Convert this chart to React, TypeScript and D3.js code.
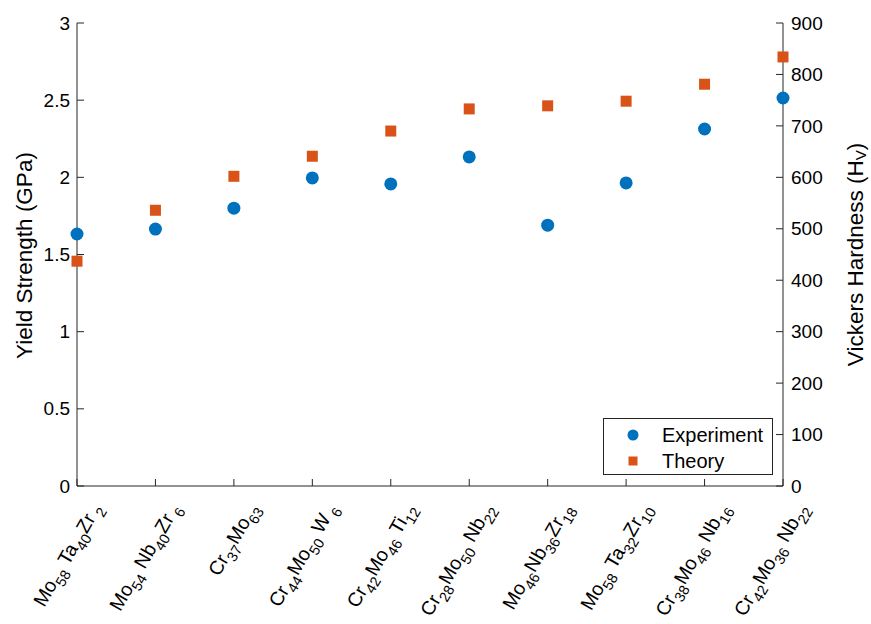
import React from "react";
import * as d3 from "d3";

const categories = [
  "Mo_{58} Ta_{40}Zr_{ 2}",
  "Mo_{54} Nb_{40}Zr_{ 6}",
  "Cr_{37}Mo_{63}",
  "Cr_{44}Mo_{50} W_{ 6}",
  "Cr_{42}Mo_{46} Ti_{12}",
  "Cr_{28}Mo_{50} Nb_{22}",
  "Mo_{46}Nb_{36}Zr_{18}",
  "Mo_{58} Ta_{32}Zr_{10}",
  "Cr_{38}Mo_{46} Nb_{16}",
  "Cr_{42}Mo_{36} Nb_{22}",
];
const experiment = [1.633, 1.665, 1.80, 1.996, 1.957, 2.132, 1.69, 1.964, 2.313, 2.514];
const theory = [437, 536, 602, 641, 690, 733, 739, 748, 781, 834];
const leftTicks = [0, 0.5, 1, 1.5, 2, 2.5, 3];
const rightTicks = [0, 100, 200, 300, 400, 500, 600, 700, 800, 900];

const W = 871, H = 624;
const L = 77, R = 783, T = 23, B = 486;
const BLUE = "#0072BD", ORANGE = "#D95319", AX = "#262626";
const FONT = "'Liberation Sans', Arial, Helvetica, sans-serif";

function parseTex(s: string) {
  const parts: { t: string; sub: boolean }[] = [];
  const re = /_\{([^}]*)\}|([^_]+)/g;
  let m;
  while ((m = re.exec(s)) !== null) {
    if (m[1] !== undefined) parts.push({ t: m[1], sub: true });
    else parts.push({ t: m[2], sub: false });
  }
  return parts;
}

export default function App() {
  const x = d3.scalePoint<number>().domain(d3.range(categories.length)).range([L, R]);
  const yL = d3.scaleLinear().domain([0, 3]).range([B, T]);
  const yR = d3.scaleLinear().domain([0, 900]).range([B, T]);
  const sq = 11;
  const tickFs = 19;
  const mainFs = 19.5, subFs = 14.5, subDy = 6.5;

  return (
    <svg width={W} height={H} style={{ position: "absolute", left: 0, top: 0, background: "#fff" }} fontFamily={FONT}>
      <rect width={W} height={H} fill="#fff" />
      {/* axes lines */}
      <line x1={L} x2={L} y1={T} y2={B} stroke={AX} strokeWidth={1} />
      <line x1={R} x2={R} y1={T} y2={B} stroke={AX} strokeWidth={1} />
      <line x1={L} x2={R} y1={B} y2={B} stroke={AX} strokeWidth={1} />
      {/* left ticks */}
      {leftTicks.map((t) => (
        <g key={"l" + t}>
          <line x1={L} x2={L + 7} y1={yL(t)} y2={yL(t)} stroke={AX} />
          <text x={L - 7} y={yL(t)} dy="0.35em" textAnchor="end" fontSize={tickFs} fill="#000">
            {t}
          </text>
        </g>
      ))}
      {/* right ticks */}
      {rightTicks.map((t) => (
        <g key={"r" + t}>
          <line x1={R - 7} x2={R} y1={yR(t)} y2={yR(t)} stroke={AX} />
          <text x={R + 8} y={yR(t)} dy="0.35em" textAnchor="start" fontSize={tickFs} fill="#000">
            {t}
          </text>
        </g>
      ))}
      {/* x ticks */}
      {categories.map((c, i) => (
        <line key={"xt" + i} x1={x(i)!} x2={x(i)!} y1={B} y2={B - 7} stroke={AX} />
      ))}
      {/* x labels */}
      {categories.map((c, i) => {
        const parts = parseTex(c);
        let sub = false;
        return (
          <text
            key={"xl" + i}
            transform={`translate(${x(i)! + 25},${B + 22}) rotate(-60)`}
            textAnchor="end"
            fontSize={mainFs}
            fill="#000"
            style={{ whiteSpace: "pre" }}
          >
            {parts.map((p, j) => {
              let dy = 0;
              if (p.sub && !sub) dy = subDy;
              else if (!p.sub && sub) dy = -subDy;
              sub = p.sub;
              return (
                <tspan key={j} dy={dy} fontSize={p.sub ? subFs : mainFs}>
                  {p.t}
                </tspan>
              );
            })}
          </text>
        );
      })}
      {/* axis labels */}
      <text transform={`translate(32,${(T + B) / 2 + 1}) rotate(-90)`} textAnchor="middle" fontSize={22.5} fill="#000">
        Yield Strength (GPa)
      </text>
      <text transform={`translate(863,${(T + B) / 2}) rotate(-90)`} textAnchor="middle" fontSize={22.5} fill="#000" style={{ whiteSpace: "pre" }}>
        <tspan>Vickers Hardness (H</tspan>
        <tspan dy={3} fontSize={15}>V</tspan>
        <tspan dy={-3}>)</tspan>
      </text>
      {/* theory */}
      {theory.map((v, i) => (
        <rect key={"t" + i} x={x(i)! - sq / 2} y={yR(v) - sq / 2} width={sq} height={sq} fill={ORANGE} />
      ))}
      {/* experiment */}
      {experiment.map((v, i) => (
        <circle key={"e" + i} cx={x(i)!} cy={yL(v)} r={6.5} fill={BLUE} />
      ))}
      {/* legend */}
      <g>
        <rect x={603.5} y={418.5} width={169} height={56} fill="#fff" stroke={AX} strokeWidth={1} />
        <circle cx={633} cy={435} r={5.5} fill={BLUE} />
        <rect x={633 - 4.5} y={461 - 4.5} width={9} height={9} fill={ORANGE} />
        <text x={662} y={435} dy="0.35em" fontSize={20} fill="#000">Experiment</text>
        <text x={662} y={461} dy="0.35em" fontSize={20} fill="#000">Theory</text>
      </g>
    </svg>
  );
}
